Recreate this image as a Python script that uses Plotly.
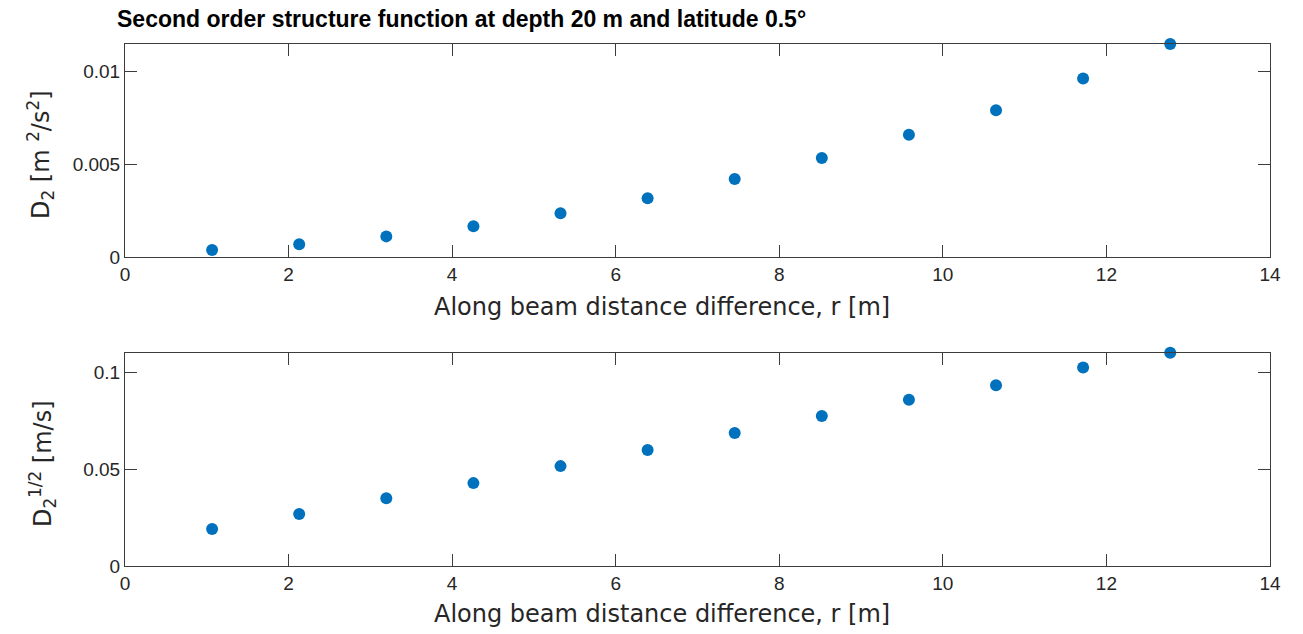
import plotly.graph_objects as go
from plotly.subplots import make_subplots

# Along-beam separation r [m]
r = [1.065, 2.13, 3.195, 4.26, 5.325, 6.39, 7.455, 8.52, 9.585, 10.65, 11.715, 12.78]
# Second order structure function D2 [m^2/s^2]
d2 = [0.00038, 0.00069, 0.00111, 0.00166, 0.00236, 0.00317, 0.00420, 0.00534,
      0.00659, 0.00791, 0.00962, 0.01148]
# Square root of D2 [m/s]
d2_sqrt = [0.0191, 0.0269, 0.0351, 0.0429, 0.0517, 0.0600, 0.0688, 0.0776,
           0.0861, 0.0936, 0.1028, 0.1104]

x_ticks = [0, 2, 4, 6, 8, 10, 12, 14]
top_ticks = [0, 0.005, 0.01]
top_tick_text = ["0", "0.005", "0.01"]
bot_ticks = [0, 0.05, 0.1]
bot_tick_text = ["0", "0.05", "0.1"]

FONT = "Liberation Sans, Arial, Helvetica, sans-serif"
LABEL_FONT = "DejaVu Sans, Liberation Sans, sans-serif"
AX = "rgb(60,60,60)"
TXT = "rgb(38,38,38)"
BLUE = "#0072BD"

fig = make_subplots(rows=2, cols=1, vertical_spacing=0.0)

fig.add_trace(go.Scatter(x=r, y=d2, mode="markers",
                         marker=dict(color=BLUE, size=12), cliponaxis=False),
              row=1, col=1)
fig.add_trace(go.Scatter(x=r, y=d2_sqrt, mode="markers",
                         marker=dict(color=BLUE, size=12), cliponaxis=False),
              row=2, col=1)

axis_common = dict(showline=True, linecolor=AX, linewidth=1, mirror="ticks",
                   ticks="inside", ticklen=12, tickcolor=AX, tickwidth=1,
                   showgrid=False, zeroline=False,
                   tickfont=dict(family=FONT, size=19, color=TXT))

fig.update_xaxes(range=[0, 14], tickvals=x_ticks, **axis_common)
fig.update_xaxes(domain=[0, 1], row=1, col=1)
fig.update_xaxes(domain=[0, 1], row=2, col=1)
fig.update_yaxes(range=[0, 0.01148], tickvals=top_ticks, ticktext=top_tick_text,
                 domain=[0.592, 1.0], row=1, col=1, **axis_common)
fig.update_yaxes(range=[0, 0.1104], tickvals=bot_ticks, ticktext=bot_tick_text,
                 domain=[0.0, 0.4086], row=2, col=1, **axis_common)

label_font = dict(family=LABEL_FONT, size=24, color=TXT)
annotations = [
    dict(text="Along beam distance difference, r [m]", xref="paper", yref="paper",
         x=(662 - 125) / 1145, y=(566 - 307) / 522, showarrow=False, font=label_font,
         xanchor="center", yanchor="middle"),
    dict(text="Along beam distance difference, r [m]", xref="paper", yref="paper",
         x=(662 - 125) / 1145, y=(566 - 614) / 522, showarrow=False, font=label_font,
         xanchor="center", yanchor="middle"),
    dict(text="D<sub>2</sub> [m <sup>2</sup>/s<sup>2</sup>]", xref="paper", yref="paper",
         x=(40 - 125) / 1145, y=(566 - 154) / 522, showarrow=False, font=label_font,
         textangle=-90, xanchor="center", yanchor="middle"),
    dict(text="D<sub>2</sub><sup>1/2</sup> [m/s]", xref="paper", yref="paper",
         x=(42 - 125) / 1145, y=(566 - 464) / 522, showarrow=False, font=label_font,
         textangle=-90, xanchor="center", yanchor="middle"),
]

fig.update_layout(
    width=1303, height=634,
    margin=dict(l=125, r=33, t=44, b=68),
    paper_bgcolor="white", plot_bgcolor="white",
    showlegend=False,
    title=dict(text="<b>Second order structure function at depth 20 m and latitude 0.5°</b>",
               x=117 / 1303, xanchor="left", y=1 - 19 / 634, yanchor="middle",
               font=dict(family=FONT, size=23, color="black")),
    annotations=annotations,
)

fig.write_html("out.html")
